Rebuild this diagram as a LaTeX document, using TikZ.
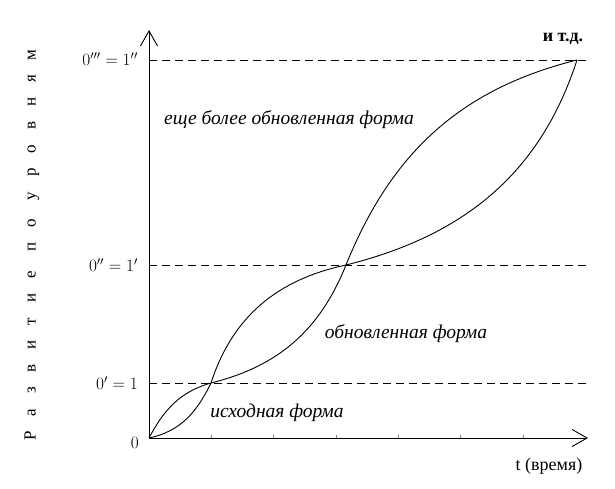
\documentclass[tikz,border=0pt]{standalone}
\usepackage{fontspec}
\setmainfont{Liberation Serif}
\newfontfamily\spacedfont[LetterSpace=88]{Liberation Serif}
\usetikzlibrary{arrows.meta}
\tikzset{
  axisline/.style={line width=0.9pt,-{Straight Barb[length=15pt,width=17pt,line width=0.9pt]}},
  guide/.style={dashed,dash pattern=on 8pt off 5pt,line width=0.7pt},
  curve/.style={line width=0.9pt},
  tickmark/.style={line width=0.5pt,gray},
  levellabel/.style={anchor=east,font=\fontsize{18.5}{20}\selectfont,inner sep=0pt},
  formlabel/.style={font=\fontsize{19.5}{22}\selectfont\itshape,inner sep=0pt},
}
\begin{document}
\begin{tikzpicture}[x=1pt,y=1pt]
\useasboundingbox (0,0) rectangle (615,488);
% key points
\coordinate (O) at (149,50);
\coordinate (P1) at (211,105);
\coordinate (P2) at (346,223);
\coordinate (P3) at (577,428);
\coordinate (ytop) at (149,458);
\coordinate (xend) at (588,50);
\coordinate (L1a) at (149,105);
\coordinate (L1b) at (586,105);
\coordinate (L2a) at (149,223);
\coordinate (L2b) at (586,223);
\coordinate (L3a) at (149,428);
\coordinate (L3b) at (590,428);
% axes
\draw[axisline] (O) -- (ytop);
\draw[axisline] (O) -- (xend);
% ticks on time axis
\foreach \i in {0,...,5}{
  \coordinate (tk\i) at ({211+62.4*\i},50);
  \draw[tickmark] (tk\i) -- ++(0,3);
}
% level guide lines
\draw[guide] (L1a) -- (L1b);
\draw[guide] (L2a) -- (L2b);
\draw[guide] (L3a) -- (L3b);
% lenses
\draw[curve] (O) to[out=62,in=196] (P1);
\draw[curve] (O) to[out=12,in=244] (P1);
\draw[curve] (P1) to[out=72,in=192] (P2);
\draw[curve] (P1) to[out=14,in=248] (P2);
\draw[curve] (P2) to[out=68,in=194] (P3);
\draw[curve] (P2) to[out=14,in=252] (P3);
% level labels
\node[levellabel] (lab3) at (138,429) {$0''' = 1''$};
\node[levellabel] (lab2) at (138,223) {$0'' = 1'$};
\node[levellabel] (lab1) at (138,105) {$0' = 1$};
\node[levellabel] (lab0) at (139,45) {$0$};
% form labels
\node[formlabel] (f3) at (289,368) {еще более обновленная форма};
\node[formlabel] (f2) at (406,154) {обновленная форма};
\node[formlabel] (f1) at (277,75) {исходная форма};
% other labels
\node[font=\fontsize{18}{20}\selectfont\bfseries,inner sep=0pt] (etc) at (563,449) {и т.д.};
\node[font=\fontsize{18}{20}\selectfont,inner sep=0pt] (tlab) at (549,22) {t (время)};
\node[rotate=90,font=\fontsize{17}{19}\selectfont\spacedfont,inner sep=0pt] (ylab) at (32,243) {Развитие по уровням};
\end{tikzpicture}
\end{document}
